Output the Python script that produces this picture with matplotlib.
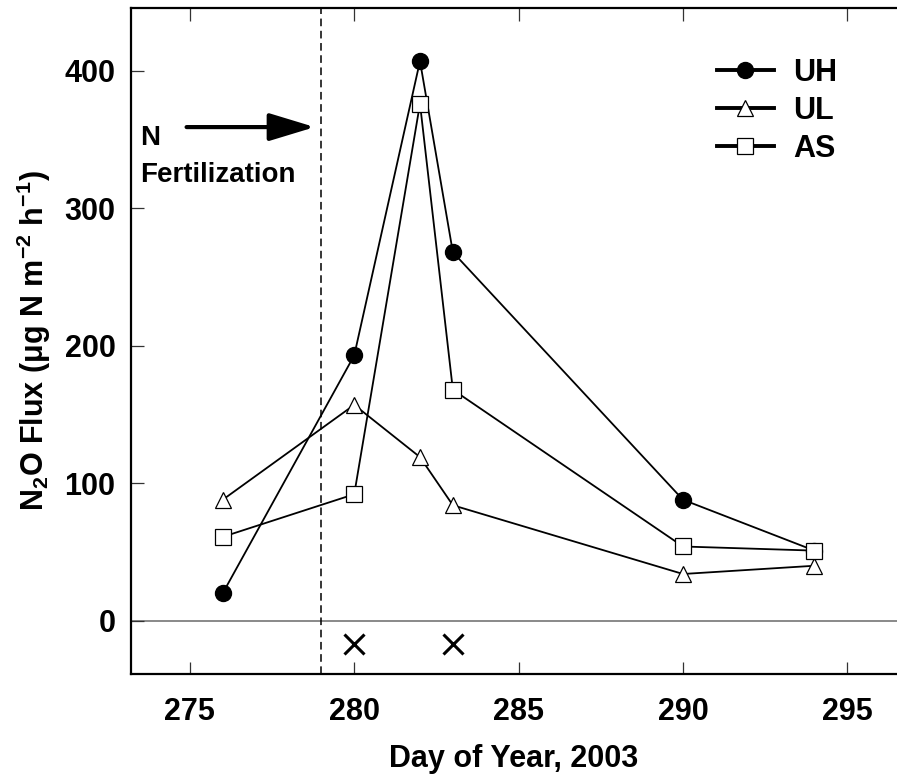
import matplotlib
matplotlib.use('Agg')
import matplotlib.pyplot as plt
from matplotlib.lines import Line2D

plt.rcParams['font.family'] = ['Liberation Sans', 'DejaVu Sans']
plt.rcParams['font.weight'] = 'bold'
plt.rcParams['mathtext.default'] = 'regular'
plt.rcParams['axes.unicode_minus'] = False

# data
days_uh = [276, 280, 282, 283, 290, 294]
uh = [20, 193, 407, 268, 88, 51]
days_ul = [276, 280, 282, 283, 290, 294]
ul = [88, 157, 119, 84, 34, 40]
days_as = [276, 280, 282, 283, 290, 294]
as_ = [61, 92, 376, 168, 54, 51]
fert_day = 279
x_days = [280, 283]
x_vals = [-17, -17]
xticks = [275, 280, 285, 290, 295]
yticks = [0, 100, 200, 300, 400]

fig = plt.figure(figsize=(8.97, 7.74), dpi=100)
ax = fig.add_axes([0.1457, 0.1296, 0.8543, 0.8597])

ax.axhline(0, color='#808080', lw=1.3, zorder=1)
ax.axvline(fert_day, color='black', lw=1.1, dashes=(5, 3), zorder=1)

ax.plot(days_uh, uh, color='black', lw=1.3, marker='o', ms=11.5,
        mfc='black', mec='black', zorder=3)
ax.plot(days_ul, ul, color='black', lw=1.3, marker='^', ms=12,
        mfc='white', mec='black', mew=0.9, zorder=4)
ax.plot(days_as, as_, color='black', lw=1.3, marker='s', ms=11,
        mfc='white', mec='black', mew=0.9, zorder=5)
ax.plot(x_days, x_vals, ls='none', marker='x', ms=14, mew=2.2, color='black')

ax.annotate('', xy=(278.8, 359), xytext=(274.9, 359),
            arrowprops=dict(arrowstyle='-|>,head_length=2.8,head_width=0.85',
                            mutation_scale=10, lw=3, color='black',
                            shrinkA=0, shrinkB=0))
ax.text(273.5, 351, 'N', fontsize=20, fontweight='bold', va='center', ha='left')
ax.text(273.5, 324, 'Fertilization', fontsize=20, fontweight='bold', va='center', ha='left')

ax.set_xlim(273.2, 296.51)
ax.set_ylim(-38.5, 445.4)
ax.set_xticks(xticks)
ax.set_yticks(yticks)
ax.tick_params(axis='both', direction='in', labelsize=22, width=0.9, length=9,
               color='#333333')
ax.tick_params(axis='x', top=True, pad=17)
ax.tick_params(axis='y', pad=11)
for lab in ax.get_xticklabels() + ax.get_yticklabels():
    lab.set_fontweight('bold')

for side in ['left', 'bottom', 'top']:
    ax.spines[side].set_linewidth(1.6)
ax.spines['right'].set_visible(False)

ax.set_xlabel('Day of Year, 2003', fontsize=22, fontweight='bold', labelpad=12)
ax.set_ylabel('N$_2$O Flux (\u03bcg N m$^{-2}$ h$^{-1}$)', fontsize=22,
              fontweight='bold', labelpad=8)

handles = [
    Line2D([], [], color='black', lw=2.8, marker='o', ms=11.5, mfc='black'),
    Line2D([], [], color='black', lw=2.8, marker='^', ms=12, mfc='white', mew=0.9),
    Line2D([], [], color='black', lw=2.8, marker='s', ms=11, mfc='white', mew=0.9),
]
ax.legend(handles, ['UH', 'UL', 'AS'], loc='upper left',
          bbox_to_anchor=(0.765, 0.926), frameon=False, borderpad=0,
          borderaxespad=0, handlelength=1.87, handletextpad=0.62,
          labelspacing=0.27, prop={'size': 22, 'weight': 'bold'})

fig.savefig('out.png', dpi=100)
